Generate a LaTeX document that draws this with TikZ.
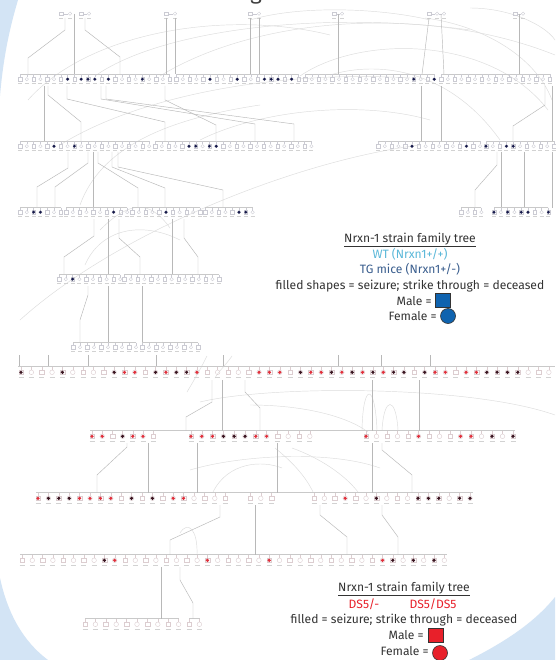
\documentclass[tikz,border=0pt]{standalone}
\usepackage{fontspec}
\setmainfont{Fira Sans}
\definecolor{bgblue}{HTML}{D3E4F5}
\definecolor{symgray}{HTML}{CBCBD3}
\definecolor{rsymgray}{HTML}{DCCDD0}
\definecolor{bargray}{HTML}{C9C9C9}
\definecolor{lblgray}{HTML}{D2D2D2}
\definecolor{conngray}{HTML}{B8B8B8}
\definecolor{arcgray}{HTML}{DCDCDC}
\definecolor{bluedot}{HTML}{16194A}
\definecolor{dotred}{HTML}{E0303C}
\definecolor{dotdark}{HTML}{3A1420}
\definecolor{textgray}{HTML}{333333}
\definecolor{wtblue}{HTML}{5BB8D9}
\definecolor{tgblue}{HTML}{3A5E8E}
\definecolor{bluefill}{HTML}{0F63AF}
\definecolor{redfill}{HTML}{E8202A}
\definecolor{dsred}{HTML}{E8202A}
\tikzset{
  sym/.style={draw=symgray, line width=0.35pt},
  rsym/.style={draw=rsymgray, line width=0.4pt},
  bar/.style={draw=bargray, line width=0.4pt},
  lbl/.style={draw=lblgray, line width=0.7pt},
  conn/.style={draw=conngray, line width=0.45pt},
  arcl/.style={draw=arcgray, line width=0.45pt},
  dotr/.style={fill=dotred}, dotd/.style={fill=dotdark}, dotn/.style={fill=none},
  lgd/.style={font=\fontsize{12.1}{14}\selectfont, text=textgray, inner sep=0pt},
  msq/.style={draw=black!80, line width=0.6pt, minimum width=15pt, minimum height=14pt, inner sep=0pt},
  fcirc/.style={draw=black!80, line width=0.6pt, circle, minimum size=15pt, inner sep=0pt},
}
% blue row: y, x0, dx, n, dot indices
\newcommand{\bluerow}[5]{%
  \pgfmathtruncatemacro{\nlast}{#4-1}%
  \pgfmathsetmacro{\xend}{#2+\nlast*#3}%
  \draw[bar] (#2,#1-5.5) -- (\xend,#1-5.5);%
  \foreach \k in {0,...,\nlast}{%
    \pgfmathsetmacro{\xx}{#2+\k*#3}%
    \draw[sym] (\xx,#1-5.5) -- (\xx,#1-2.5);%
    \ifodd\k\relax \draw[sym] (\xx,#1-0.8) circle (1.7);\else \draw[sym] (\xx-1.7,#1-2.5) rectangle (\xx+1.7,#1+0.9);\fi
    \draw[lbl] (\xx-2,#1+3.5) -- (\xx+2,#1+3.5);%
  }%
  \foreach \k in {#5}{\fill[bluedot] ({#2+\k*#3},#1-0.8) circle (1.6);}%
}
% red row: y, x0, dx, codes
\newcommand{\redrow}[4]{%
  \foreach \c [count=\k from 0] in {#4}{%
    \pgfmathsetmacro{\xx}{#2+\k*#3}%
    \draw[rsym] (\xx,#1-6.5) -- (\xx,#1-3);%
    \ifodd\k\relax \draw[rsym] (\xx,#1-0.7) circle (2.3);\else \draw[rsym] (\xx-2.3,#1-3) rectangle (\xx+2.3,#1+1.6);\fi
    \fill[dot\c] (\xx,#1-0.7) circle (1.8);%
    \draw[lbl] (\xx-2.5,#1+4.8) -- (\xx+2.5,#1+4.8);%
  }%
}
\newcommand{\fpair}[3]{% y, xa, xb
  \draw[sym] (#2-1.7,#1-2) rectangle (#2+1.7,#1+1.4);
  \draw[sym] (#3,#1-0.3) circle (1.7);
  \draw[sym] (#2+1.7,#1-0.3) -- (#3-1.7,#1-0.3);
  \draw[lbl] (#2-2,#1+4) -- (#2+2,#1+4);
  \draw[lbl] (#3-2,#1+4) -- (#3+2,#1+4);
}
\begin{document}
\begin{tikzpicture}[x=1pt,y=-1pt]
\useasboundingbox (0,0) rectangle (555,660);
\fill[white] (0,0) rectangle (555,660);
% background corner shapes
\fill[bgblue] (0,0) -- (18,0) .. controls (9,30) and (3,60) .. (0,96) -- cycle;
\fill[bgblue] (0,578) .. controls (8,615) and (24,642) .. (48,660) -- (0,660) -- cycle;
\fill[bgblue] (469,660) .. controls (505,642) and (535,622) .. (555,597) -- (555,660) -- cycle;
% cut title glyph
\node[font=\fontsize{22}{22}\selectfont, text=black!75, anchor=base, inner sep=0pt] (g0) at (256,0) {g};

% ---------- light arcs (blue part)
\draw[arcl] (28,100) .. controls (90,30) and (230,10) .. (330,35);
\draw[arcl] (95,76) .. controls (160,30) and (320,10) .. (470,30);
\draw[arcl] (160,76) .. controls (260,15) and (430,5) .. (555,55);
\draw[arcl] (300,76) .. controls (360,35) and (490,35) .. (548,110);
\draw[arcl] (425,18) .. controls (480,25) and (535,55) .. (552,100);
\draw[arcl] (470,8) .. controls (510,8) and (545,25) .. (555,40);
\draw[arcl] (60,145) .. controls (140,95) and (280,70) .. (410,78);
\draw[arcl] (80,205) .. controls (100,150) and (160,120) .. (260,105);
\draw[arcl] (20,320) .. controls (120,230) and (300,160) .. (420,145);
\draw[arcl] (85,265) .. controls (100,230) and (140,220) .. (180,240);
\draw[arcl] (200,140) .. controls (260,110) and (360,100) .. (430,120);
\draw[arcl] (100,230) .. controls (130,200) and (150,200) .. (170,228);
\draw[arcl] (330,75) .. controls (380,60) and (450,70) .. (500,140);
\draw[arcl] (250,20) .. controls (300,5) and (380,8) .. (430,20);
% ---------- light arcs (red part)
\draw[arcl] (200,402) .. controls (270,385) and (470,385) .. (555,415);
\draw[arcl] (362,430) .. controls (363,382) and (375,382) .. (377,430);
\draw[arcl] (382,430) .. controls (384,396) and (396,396) .. (398,430);
\draw[arcl] (250,405) .. controls (300,405) and (345,415) .. (368,432);
\draw[arcl] (275,448) .. controls (290,460) and (305,475) .. (313,492);
\draw[arcl] (292,448) .. controls (320,458) and (345,475) .. (358,492);
\draw[arcl] (213,492) .. controls (228,462) and (262,460) .. (282,468);
\draw[arcl] (180,533) .. controls (188,520) and (198,530) .. (197,555);
\draw[arcl] (207,356) .. controls (200,370) and (193,382) .. (187,392);
\draw[arcl] (232,356) .. controls (225,366) and (218,372) .. (215,378);
\draw[arcl] (190,470) .. controls (240,455) and (330,450) .. (380,468);

% ---------- founders
\fpair{14}{61}{70}
\fpair{14}{81}{89}
\fpair{14}{166}{175}
\fpair{14}{250}{259}
\fpair{14}{334}{342}
\fpair{14}{429}{437}
\draw[sym] (444,13.7) circle (1.7); \draw[sym] (437+1.7,13.7) -- (444-1.7,13.7); \draw[lbl] (442,18) -- (446,18);
\fpair{14}{515}{523}

% ---------- blue connectors
\draw[conn] (65,18) -- (65,30) -- (28,58) -- (28,74.5);
\draw[conn] (74,14) -- (74,74.5);
\draw[conn] (85,18) -- (85,30) -- (120,57) -- (120,74.5);
\draw[conn] (166,18) -- (166,74.5);
\draw[conn] (175,18) -- (175,74.5);
\draw[conn] (250,18) -- (250,74.5);
\draw[conn] (259,18) -- (259,74.5);
\draw[conn] (338,14) -- (338,74.5);
\draw[conn] (429,18) -- (422,74.5);
\draw[conn] (441,14) -- (444,74.5);
\draw[conn] (519,14) -- (519,74.5);
% row1 -> row2
\draw[conn] (44,86) -- (44,141.5);
\draw[conn] (48,86) -- (48,95) -- (81,122) -- (81,141.5);
\draw[conn] (67,86) -- (67,99) -- (165,122) -- (165,141.5);
\draw[conn] (101,86) -- (101,99) -- (255,124) -- (255,141.5);
\draw[conn] (106,86) -- (106,99) -- (294,124) -- (294,141.5);
\draw[conn] (165,86) -- (165,100) -- (216,125) -- (216,141.5);
\draw[conn] (421,86) -- (421,141.5);
\draw[conn] (441,86) -- (441,141.5);
\draw[conn] (545,86) -- (545,105) -- (513,126) -- (513,141.5);
\draw[conn] (552,86) -- (552,141.5);
% row2 -> row3
\draw[conn] (68,152) -- (68,168) -- (37,187) -- (37,207.5);
\draw[conn] (88,152) -- (88,163) -- (55,187) -- (55,207.5);
\draw[conn] (93,152) -- (93,207.5);
\draw[conn] (98,152) -- (98,163) -- (138,188) -- (138,207.5);
\draw[conn] (112,152) -- (112,167) -- (165,188) -- (165,207.5);
\draw[conn] (118,152) -- (118,167) -- (223,190) -- (223,207.5);
\draw[conn] (497,152) -- (497,165) -- (475,190) -- (475,207.5);
\draw[conn] (501,152) -- (501,207.5);
\draw[conn] (524,152) -- (524,207.5);
\draw[conn] (552,152) -- (552,207.5);
% row3 -> row4
\draw[conn] (94,219) -- (94,236) -- (64,257) -- (64,274.5);
\draw[conn] (108,219) -- (108,274.5);
\draw[conn] (119,219) -- (119,238) -- (140,257) -- (140,274.5);
\draw[conn] (172,219) -- (172,274.5);
\draw[conn] (184,219) -- (184,238) -- (198,257) -- (198,274.5);
% row4 -> row5
\draw[conn] (88,286) -- (88,295) -- (80,320) -- (80,342.5);
\draw[conn] (108,286) -- (108,342.5);
\draw[conn] (142,286) -- (142,342.5);

% ---------- blue rows
\bluerow{80}{20}{6.8}{23}{7,9,10,11,13,18}
\bluerow{80}{176}{6.8}{19}{5,9,13,14,15,17}
\bluerow{80}{305}{6.8}{20}{16,19}
\bluerow{80}{441}{6.8}{17}{}
\bluerow{147}{20}{6.8}{20}{5,8}
\bluerow{147}{155}{6.8}{24}{5,6,8,9}
\bluerow{147}{378}{6.8}{16}{5,13}
\bluerow{147}{486}{6.8}{11}{0,3,4}
\bluerow{213}{20}{6.8}{7}{2,3}
\bluerow{213}{66}{6.8}{10}{7}
\bluerow{213}{132}{6.8}{11}{5}
\bluerow{213}{205}{6.8}{8}{5,6}
\bluerow{213}{461}{6.8}{4}{}
\bluerow{213}{494}{6.8}{9}{0,2,4,5,8}
\bluerow{280}{59}{6.8}{10}{2}
\bluerow{280}{124}{6.8}{15}{}
\bluerow{348}{73}{7}{10}{}
\bluerow{348}{142}{7}{9}{}

% ---------- red stubs and bars
\foreach \sx in {19,48,88,156,223,338,381,430}{\draw[conn] (\sx,355) -- (\sx,366.5);}
\draw[bar] (18,366.5) -- (555,366.5);
\draw[bar] (90,430.5) -- (515,430.5);
\draw[bar] (36,492.5) -- (473,492.5);
\draw[bar] (20,554.5) -- (447,554.5);
\draw[bar] (85,618.5) -- (179,618.5);
\draw[bar] (189,618.5) -- (200,618.5);

% red connectors
\draw[conn] (212,380) -- (212,402) -- (186,417) -- (186,430.5);
\draw[conn] (222,380) -- (222,430.5);
\draw[conn] (245,380) -- (245,392) -- (260,408) -- (260,430.5);
\draw[conn] (372,380) -- (372,430.5);
\draw[conn] (419,380) -- (419,430.5);
\draw[conn] (127,443) -- (127,447) -- (97,475) -- (97,492.5);
\draw[conn] (148,443) -- (148,492.5);
\draw[conn] (197,443) -- (197,492.5);
\draw[conn] (277,443) -- (277,492.5);
\draw[conn] (372,443) -- (372,492.5);
\draw[conn] (382,443) -- (382,450) -- (412,475) -- (412,492.5);
\draw[conn] (220,505) -- (220,517) -- (170,540) -- (170,554.5);
\draw[conn] (255,505) -- (255,554.5);
\draw[conn] (320,505) -- (320,515) -- (347,537) -- (347,554.5);
\draw[conn] (382,505) -- (382,515) -- (398,537) -- (398,554.5);
\draw[conn] (161,567) -- (161,618.5);
\draw[conn] (180,567) -- (180,580) -- (193,603) -- (193,618.5);

% ---------- red rows
\redrow{373}{21}{10.35}{d,n,n,n,d,n,n,n,n,d,r,r,n,d,r,d,d,r,n,n,n,n,n,r,r,r,n,d,r,r,d,r,d,r,d,r,d,d,n,d,r,r,n,r,r,d,d,d,d,n,n,n}
\redrow{437}{92}{10.2}{r,r,n,d,r,r,n}
\redrow{437}{191}{10.8}{r,r,r,d,d,d,r,r,n,n,n,n}
\redrow{437}{366}{10.5}{r,n,n,n,n,r,n,n,n,r,r,n,d,n,d}
\redrow{499}{38}{10.4}{r,d,d,d,r,r,r,r,n,d,n,d,n,r,r,n,n,n,n}
\redrow{499}{250}{10.8}{n,n,n}
\redrow{499}{314}{10.4}{n,n,n,r,n,n,d,n,n,n,d,d,d,n,d,d}
\redrow{561}{22}{10.3}{n,n,n,n,n,n,n,n,d,r,n,n,n,n,n,n,n,n,r,n,n,n,n,n,r,n,n,n,n,n,n,n,n,n,n,r,d,n,d,n,d,n}
\redrow{625}{85}{10.4}{n,n,n,n,n,n,n,n,n,n,n,n}

% ---------- legend (blue)
\node[lgd] (t1) at (410,240) {\underline{Nrxn-1 strain family tree}};
\node[lgd, text=wtblue] (t2) at (410,254) {WT (Nrxn1+/+)};
\node[lgd, text=tgblue] (t3) at (410,269) {TG mice (Nrxn1+/-)};
\node[lgd] (t4) at (410,286) {filled shapes = seizure; strike through = deceased};
\node[lgd, anchor=east] (t5) at (432,301) {Male =};
\node[msq, fill=bluefill] (s1) at (443,300) {};
\node[lgd, anchor=east] (t6) at (437,316) {Female =};
\node[fcirc, fill=bluefill] (c1) at (448,316) {};

% ---------- legend (red)
\node[lgd] (u1) at (404,589) {\underline{Nrxn-1 strain family tree}};
\node[lgd, text=dsred] (u2) at (364,604) {DS5/-};
\node[lgd, text=dsred] (u3) at (433,604) {DS5/DS5};
\node[lgd] (u4) at (404,620) {filled = seizure; strike through = deceased};
\node[lgd, anchor=east] (u5) at (424,635) {Male =};
\node[msq, fill=redfill] (s2) at (436,635) {};
\node[lgd, anchor=east] (u6) at (429,651) {Female =};
\node[fcirc, fill=redfill] (c2) at (440,653) {};
\end{tikzpicture}
\end{document}
